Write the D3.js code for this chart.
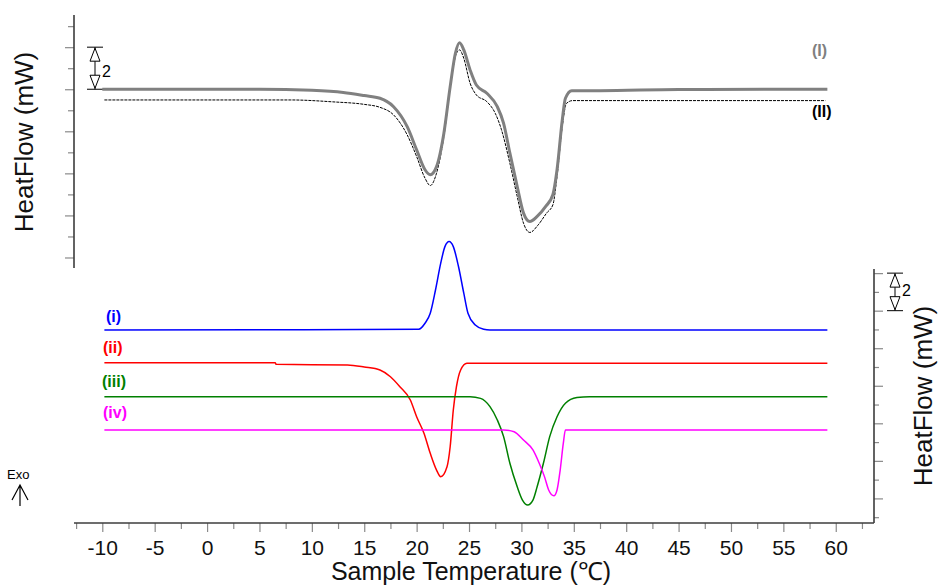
<!DOCTYPE html>
<html lang="en">
<head>
	<meta charset="UTF-8">
	<title>DSC curves</title>
	<script src="https://cdn.jsdelivr.net/npm/d3@7"></script>
	<style>
		body { margin: 0; background: #fff; }
		text { font-family: "Liberation Sans", Arial, sans-serif; }
	</style>
</head>
<body>
	<script>

		// measured curves, temperature in °C, heat flow in mW
		var tGray = [-10, 5, 10, 13, 15, 16.5, 17.8, 19.1, 20.0, 20.8, 21.3, 21.9, 22.6, 23.2, 23.7, 24.1, 24.5, 25.1, 25.7, 26.7, 27.7, 28.3, 28.9, 29.6, 30.2, 30.8, 31.5, 32.3, 33.0, 33.4, 33.9, 34.2, 34.8, 37.5, 45, 59.2];
		var vGray = [0, 0, -0.05, -0.15, -0.3, -0.43, -0.83, -1.78, -2.88, -3.83, -4.07, -3.68, -2.09, 0.12, 1.71, 2.21, 1.87, 0.92, 0.2, -0.19, -0.83, -1.62, -3.04, -4.63, -5.89, -6.29, -6.05, -5.58, -5.02, -3.83, -1.46, -0.43, -0.07, -0.07, -0.01, 0];

		var tBlack = [-9.8, 8, 12, 15, 16.5, 17.8, 19.1, 20.0, 20.8, 21.3, 21.9, 22.6, 23.3, 23.8, 24.1, 24.5, 25.1, 25.7, 26.7, 27.5, 28.1, 28.9, 29.6, 30.2, 30.8, 31.6, 32.4, 33.0, 33.4, 33.9, 34.3, 34.9, 59.0];
		var vBlack = [-0.51, -0.51, -0.6, -0.72, -0.86, -1.22, -2.17, -3.2, -4.23, -4.58, -3.99, -2.25, 0.44, 1.71, 1.87, 1.47, 0.29, -0.27, -0.59, -1.14, -1.93, -3.52, -5.1, -6.37, -6.81, -6.45, -5.89, -5.5, -4.15, -1.78, -0.67, -0.54, -0.54];

		var tBlue = [-9.8, 20.2, 20.8, 21.3, 21.8, 22.3, 22.7, 23.1, 23.5, 24.0, 24.5, 24.9, 25.6, 26.4, 27, 59.2];
		var vBlue = [-1.03, -0.99, -0.67, -0.14, 1.1, 2.53, 3.41, 3.68, 3.41, 2.34, 0.93, -0.14, -0.76, -0.99, -1.03, -1.03];

		var tRed = [-9.8, 6.5, 6.6, 13.4, 15, 16.5, 17.5, 18.4, 19.4, 20.0, 20.7, 21.3, 21.9, 22.3, 22.9, 23.2, 23.5, 23.8, 24.2, 24.8, 59.2];
		var vRed = [-2.78, -2.78, -2.86, -2.89, -3.0, -3.16, -3.52, -4.05, -4.76, -5.65, -6.53, -7.6, -8.49, -8.84, -8.31, -7.25, -5.29, -4.05, -3.16, -2.8, -2.8];

		var tGreen = [-9.8, 25.1, 26.1, 27.0, 27.7, 28.3, 28.9, 29.6, 30.1, 30.6, 31.1, 31.5, 32.1, 32.7, 33.4, 34.2, 35.3, 36.5, 59.2];
		var vGreen = [-4.58, -4.58, -4.67, -5.11, -5.82, -6.71, -8.13, -9.38, -10.09, -10.35, -10.09, -9.38, -8.13, -6.71, -5.65, -4.93, -4.63, -4.58, -4.58];

		var tPink = [-9.8, 28.3, 29.3, 30.2, 31.1, 31.7, 32.2, 32.6, 33.1, 33.4, 33.7, 34.0, 34.2, 59.2];
		var vPink = [-6.35, -6.35, -6.45, -6.89, -7.42, -8.13, -8.84, -9.55, -9.86, -9.55, -8.49, -7.06, -6.36, -6.35];

		var xTicks = [-10, -5, 0, 5, 10, 15, 20, 25, 30, 35, 40, 45, 50, 55, 60];
		var xMinor = [-12.5, -7.5, -2.5, 2.5, 7.5, 12.5, 17.5, 22.5, 27.5, 32.5, 37.5, 42.5, 47.5, 52.5, 57.5, 62.5];
		var topTicks = [-8, -7, -6, -5, -4, -3, -2, -1, 0, 1, 2, 3];
		var lowTicks = [-11, -10, -9, -8, -7, -6, -5, -4, -3, -2, -1, 0, 1, 2];

		var svg = d3.select("body").append("svg").attr("width", 938).attr("height", 585);

		var x = d3.scaleLinear().domain([-12.7, 63.65]).range([74, 874]);
		var yTop = d3.scaleLinear().domain([-8.5, 3.53]).range([268, 15]);
		var yLow = d3.scaleLinear().domain([-11.31, 2.22]).range([523, 269]);

		function pts(ts, vs) {
			return ts.map((t, i) => [t, vs[i]]);
		}

		function drawCurve(ts, vs, y, color, width, dash) {
			var line = d3.line().x(d => x(d[0])).y(d => y(d[1])).curve(d3.curveMonotoneX);
			var p = svg.append("path").datum(pts(ts, vs)).attr("d", line)
				.attr("fill", "none").attr("stroke", color).attr("stroke-width", width);
			if (dash) p.attr("stroke-dasharray", dash);
		}

		// axes
		var axisColor = "#3c3c3c";
		var tickColor = "#8a8a8a";

		function styleAxis(g) {
			g.select(".domain").remove();
			g.selectAll(".tick line").attr("stroke", tickColor).attr("stroke-width", 1.2);
		}

		var gx = svg.append("g").attr("transform", "translate(0,523)");
		gx.append("g").call(d3.axisBottom(x).tickValues(xTicks).tickSize(9).tickFormat(d => String(d)))
			.call(styleAxis)
			.call(g => g.selectAll("text").attr("y", 32).attr("dy", 0).attr("font-size", 21)
				.attr("fill", "#111").style("font-family", "Liberation Sans, Arial, sans-serif"));
		gx.append("g").call(d3.axisBottom(x).tickValues(xMinor).tickSize(6).tickFormat(""))
			.call(styleAxis);
		gx.append("line").attr("x1", x.range()[0]).attr("x2", x.range()[1])
			.attr("stroke", axisColor).attr("stroke-width", 1.6);

		var gl = svg.append("g").attr("transform", "translate(74,0)");
		gl.append("g").call(d3.axisLeft(yTop).tickValues(topTicks.filter(d => d % 2 == 0)).tickSize(9).tickFormat(""))
			.call(styleAxis);
		gl.append("g").call(d3.axisLeft(yTop).tickValues(topTicks.filter(d => d % 2 != 0)).tickSize(6).tickFormat(""))
			.call(styleAxis);
		gl.append("line").attr("y1", yTop.range()[0]).attr("y2", yTop.range()[1])
			.attr("stroke", axisColor).attr("stroke-width", 1.6);

		var gr = svg.append("g").attr("transform", "translate(874,0)");
		gr.append("g").call(d3.axisRight(yLow).tickValues(lowTicks.filter(d => d % 2 == 0)).tickSize(9).tickFormat(""))
			.call(styleAxis);
		gr.append("g").call(d3.axisRight(yLow).tickValues(lowTicks.filter(d => d % 2 != 0)).tickSize(5).tickFormat(""))
			.call(styleAxis);
		gr.append("line").attr("y1", yLow.range()[0]).attr("y2", yLow.range()[1])
			.attr("stroke", axisColor).attr("stroke-width", 1.6);

		// scale bars (2 mW)
		function scaleBar(cx, y1, y2, labelX, labelY) {
			var g = svg.append("g").attr("stroke", "#000").attr("stroke-width", 1).attr("fill", "#fff");
			g.append("line").attr("x1", cx - 8).attr("x2", cx + 8).attr("y1", y1).attr("y2", y1);
			g.append("line").attr("x1", cx - 8).attr("x2", cx + 8).attr("y1", y2).attr("y2", y2);
			g.append("line").attr("x1", cx).attr("x2", cx).attr("y1", y1).attr("y2", y2);
			g.append("path").attr("d", `M${cx},${y1 + 1}L${cx - 5},${y1 + 14}L${cx + 5},${y1 + 14}Z`);
			g.append("path").attr("d", `M${cx},${y2 - 1}L${cx - 5},${y2 - 14}L${cx + 5},${y2 - 14}Z`);
			svg.append("text").attr("x", labelX).attr("y", labelY).attr("font-size", 16).text("2");
		}
		scaleBar(95, yTop(2), yTop(0), 102, 77);
		scaleBar(895, yLow(2), yLow(0), 902, 296);

		// curves
		drawCurve(tBlack, vBlack, yTop, "#000", 1, "3,1");
		drawCurve(tGray, vGray, yTop, "#808080", 3);
		drawCurve(tBlue, vBlue, yLow, "#0000ff", 1.5);
		drawCurve(tRed, vRed, yLow, "#ff0000", 1.5);
		drawCurve(tGreen, vGreen, yLow, "#008000", 1.5);
		drawCurve(tPink, vPink, yLow, "#ff00ff", 1.5);

		// curve labels
		var labels = [
			{ t: "(I)", x: 812, y: 56, c: "#808080" },
			{ t: "(II)", x: 812, y: 117, c: "#000" },
			{ t: "(i)", x: 106, y: 322, c: "#0000ff" },
			{ t: "(ii)", x: 103, y: 353, c: "#ff0000" },
			{ t: "(iii)", x: 102, y: 387, c: "#008000" },
			{ t: "(iv)", x: 103, y: 418, c: "#ff00ff" }
		];
		labels.forEach(l => {
			svg.append("text").attr("x", l.x).attr("y", l.y).attr("font-size", 16)
				.attr("font-weight", "bold").attr("fill", l.c).text(l.t);
		});

		// axis titles
		svg.append("text").attr("transform", "translate(33,142) rotate(-90)")
			.attr("text-anchor", "middle").attr("font-size", 26).attr("fill", "#111").text("HeatFlow (mW)");
		svg.append("text").attr("transform", "translate(932,396) rotate(-90)")
			.attr("text-anchor", "middle").attr("font-size", 26).attr("fill", "#111").text("HeatFlow (mW)");
		svg.append("text").attr("x", 471).attr("y", 580)
			.attr("text-anchor", "middle").attr("font-size", 25).attr("fill", "#111").text("Sample Temperature (℃)");

		// exo marker
		svg.append("text").attr("x", 7).attr("y", 479).attr("font-size", 13).text("Exo");
		svg.append("path").attr("d", "M20,506L20,485M12,500L20,485L28,500")
			.attr("fill", "none").attr("stroke", "#000").attr("stroke-width", 1.2);

	</script>
</body>
</html>
